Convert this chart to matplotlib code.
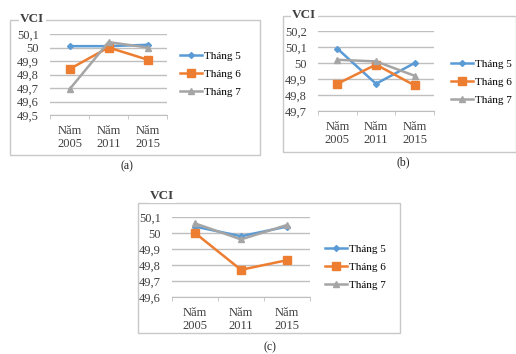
import matplotlib
matplotlib.use("Agg")
import matplotlib.pyplot as plt
from matplotlib.patches import Rectangle

categories = ["Năm\n2005", "Năm\n2011", "Năm\n2015"]
series_names = ["Tháng 5", "Tháng 6", "Tháng 7"]

a_t5 = [50.01, 50.01, 50.02]
a_t6 = [49.84, 50.00, 49.91]
a_t7 = [49.69, 50.04, 50.00]
a_ticks = [49.5, 49.6, 49.7, 49.8, 49.9, 50.0, 50.1]
a_ticklabels = ["49,5", "49,6", "49,7", "49,8", "49,9", "50", "50,1"]

b_t5 = [50.09, 49.87, 50.00]
b_t6 = [49.87, 49.99, 49.86]
b_t7 = [50.02, 50.01, 49.92]
b_ticks = [49.7, 49.8, 49.9, 50.0, 50.1, 50.2]
b_ticklabels = ["49,7", "49,8", "49,9", "50", "50,1", "50,2"]

c_t5 = [50.04, 49.98, 50.04]
c_t6 = [50.00, 49.77, 49.83]
c_t7 = [50.06, 49.96, 50.05]
c_ticks = [49.6, 49.7, 49.8, 49.9, 50.0, 50.1]
c_ticklabels = ["49,6", "49,7", "49,8", "49,9", "50", "50,1"]

colors = ["#5B9BD5", "#ED7D31", "#A5A5A5"]
markers = ["D", "s", "^"]
msizes = [3, 5.5, 4]

W, H = 516, 354
fig = plt.figure(figsize=(W / 100, H / 100), dpi=100)
plt.rcParams["font.family"] = ["Liberation Serif", "DejaVu Serif"]

def fx(px):
    return px / W

def fy(py):
    return 1 - py / H

def box(x0, y0, x1, y1):
    fig.patches.append(Rectangle((fx(x0), fy(y1)), fx(x1) - fx(x0), fy(y0) - fy(y1),
                                 transform=fig.transFigure, fill=False,
                                 edgecolor="#c8c8c8", linewidth=1.0, zorder=0))

def panel(rect_px, data, ticks, ticklabels, legend_px, vci_px, cap_px, cap):
    x0, y0, x1, y1 = rect_px
    ax = fig.add_axes([fx(x0), fy(y1), fx(x1) - fx(x0), fy(y0) - fy(y1)])
    xs = range(len(categories))
    for vals, name, c, m, ms in zip(data, series_names, colors, markers, msizes):
        ax.plot(xs, vals, color=c, marker=m, markersize=ms, linewidth=1.8, label=name)
    ax.set_xlim(-0.5, len(categories) - 0.5)
    ax.set_ylim(ticks[0], ticks[-1])
    ax.set_yticks(ticks)
    ax.set_yticklabels(ticklabels)
    ax.set_xticks(list(xs))
    ax.set_xticklabels(categories, linespacing=1.1)
    ax.set_xticks([-0.5, 0.5, 1.5, 2.5], minor=True)
    ax.tick_params(axis="x", which="major", length=0, pad=7, labelsize=9, colors="#404040")
    ax.tick_params(axis="x", which="minor", length=3, color="#bfbfbf")
    ax.tick_params(axis="y", length=0, pad=8, labelsize=9, colors="#404040")
    ax.grid(axis="y", color="#bfbfbf", linewidth=1.0)
    ax.set_axisbelow(True)
    for s in ["left", "right", "top"]:
        ax.spines[s].set_visible(False)
    ax.spines["bottom"].set_color("#bfbfbf")
    lx, ly = legend_px
    handles, labels = ax.get_legend_handles_labels()
    fig.legend(handles, labels, loc="upper left", bbox_to_anchor=(fx(lx), fy(ly)),
               frameon=False, fontsize=8, handlelength=2.0, labelspacing=0.75,
               handletextpad=0.2, borderaxespad=0, borderpad=0)
    fig.text(fx(vci_px[0]), fy(vci_px[1]), "VCI", fontsize=9.5, fontweight="bold",
             color="#404040", ha="left", va="center",
             bbox=dict(facecolor="white", edgecolor="none", pad=1))
    fig.text(fx(cap_px[0]), fy(cap_px[1]), cap, fontsize=8.5, color="#222222",
             ha="center", va="center")
    return ax

box(10, 20, 260, 155)
box(283, 16, 516, 152)
box(138, 203, 400, 333)

panel((50, 34, 167, 115), [a_t5, a_t6, a_t7], a_ticks, a_ticklabels,
      (180, 51), (20, 19), (127, 166), "(a)")
panel((318, 31, 434, 111), [b_t5, b_t6, b_t7], b_ticks, b_ticklabels,
      (451, 59), (292, 15), (403, 162), "(b)")
panel((172, 217, 310, 297), [c_t5, c_t6, c_t7], c_ticks, c_ticklabels,
      (325, 244), (150, 196), (270, 347), "(c)")

fig.savefig("out.png", dpi=100, facecolor="white")
